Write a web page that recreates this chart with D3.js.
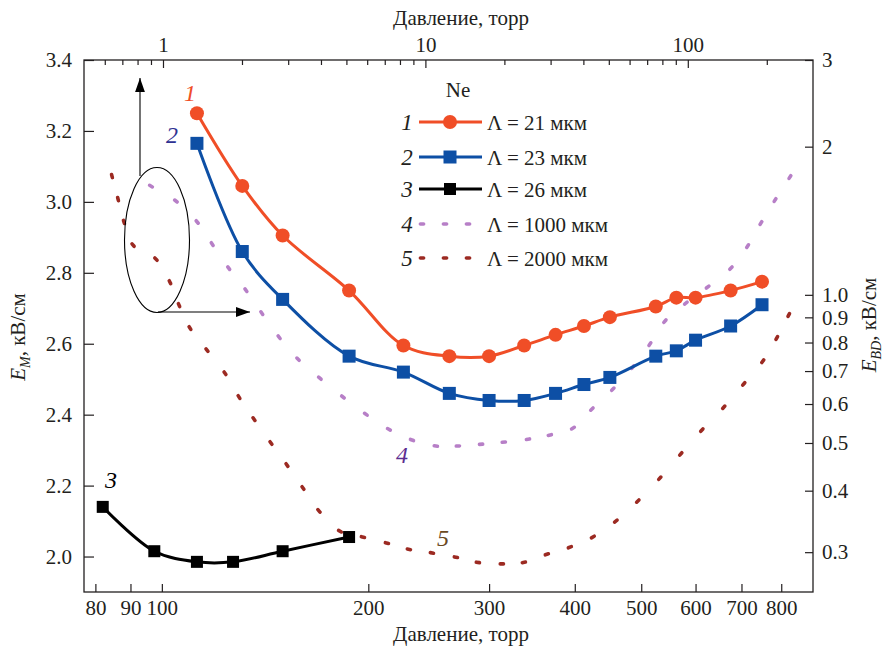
<!DOCTYPE html>
<html>
<head>
<meta charset="utf-8">
<script src="https://cdn.jsdelivr.net/npm/d3@7"></script>
</head>
<body style="margin:0">
<script>
// microgap data, bottom/left axes
var pressureMicro = [112.5, 131, 150, 187.5, 225, 262.5, 300, 337.5, 375, 412.5, 450, 525, 562.5, 600, 675, 750];
var em21 = [3.25, 3.045, 2.905, 2.75, 2.595, 2.565, 2.565, 2.595, 2.625, 2.65, 2.675, 2.705, 2.73, 2.73, 2.75, 2.775];
var em23 = [3.165, 2.86, 2.725, 2.565, 2.52, 2.46, 2.44, 2.44, 2.46, 2.485, 2.505, 2.565, 2.58, 2.61, 2.65, 2.71];
var pressure26 = [82, 97.5, 112.5, 127, 150, 187.5];
var em26 = [2.14, 2.015, 1.985, 1.985, 2.015, 2.055];

// wide gaps, top/right axes
var pressure1000 = [0.90, 1.12, 1.35, 1.54, 1.78, 2.07, 2.38, 2.77, 3.27, 3.96, 4.85, 5.93, 7.26, 8.89, 10.96, 13.3, 16.3, 19.9, 24.6, 29.8, 36.5, 43.1, 51.8, 61.7, 71.7, 81.8, 98.3, 119, 146, 169, 190, 215, 245];
var ebd1000 = [1.663, 1.551, 1.406, 1.268, 1.133, 1.022, 0.918, 0.820, 0.740, 0.677, 0.620, 0.572, 0.533, 0.507, 0.493, 0.493, 0.497, 0.502, 0.509, 0.519, 0.536, 0.586, 0.643, 0.713, 0.794, 0.884, 0.962, 1.037, 1.133, 1.256, 1.399, 1.558, 1.735];
var pressure2000 = [0.639, 0.674, 0.710, 0.769, 0.940, 1.063, 1.151, 1.267, 1.471, 1.723, 1.948, 2.222, 2.579, 2.968, 3.415, 3.929, 4.724, 5.781, 7.135, 8.653, 10.59, 13.07, 15.85, 19.56, 23.73, 29.03, 35.52, 43.46, 53.18, 64.48, 78.22, 94.04, 113.1, 137.1, 163.4, 193.1, 218.3, 242.5];
var ebd2000 = [1.743, 1.565, 1.406, 1.262, 1.182, 1.061, 0.953, 0.856, 0.772, 0.693, 0.620, 0.559, 0.500, 0.451, 0.405, 0.364, 0.331, 0.322, 0.313, 0.304, 0.299, 0.293, 0.286, 0.284, 0.286, 0.297, 0.307, 0.322, 0.347, 0.381, 0.424, 0.475, 0.531, 0.591, 0.659, 0.733, 0.817, 0.910];

var bottomTicks = [80, 90, 100, 200, 300, 400, 500, 600, 700, 800];
var topMajor = [1, 10, 100];
var topMinor = [0.6, 0.7, 0.8, 0.9, 2, 3, 4, 5, 6, 7, 8, 9, 20, 30, 40, 50, 60, 70, 80, 90, 200];
var leftTicks = [2.0, 2.2, 2.4, 2.6, 2.8, 3.0, 3.2, 3.4];
var rightTicks = [0.3, 0.4, 0.5, 0.6, 0.7, 0.8, 0.9, 1.0, 2, 3];
var rightLabels = ["0.3", "0.4", "0.5", "0.6", "0.7", "0.8", "0.9", "1.0", "2", "3"];
var legendNames = ["Λ = 21 мкм", "Λ = 23 мкм", "Λ = 26 мкм", "Λ = 1000 мкм", "Λ = 2000 мкм"];

var W = 889, H = 652;
var L = 84, R = 813, T = 60, B = 592;
var red = "#f04e27", blue = "#0d4fa5", purple = "#b77fc7", brick = "#9c2a22";
var ink = "#231f20";
var FONT = "Liberation Serif";

var svg = d3.select("body").append("svg").attr("width", W).attr("height", H);

var xB = d3.scaleLog().domain([77, 890]).range([L, R]);
var xT = d3.scaleLog().domain([0.5, 300]).range([L, R]);
var yL = d3.scaleLinear().domain([1.9, 3.4]).range([B, T]);
var yR = d3.scaleLog().domain([0.249, 3]).range([B, T]);

function addText(parent, x, y, size) {
    return parent.append("text").attr("x", x).attr("y", y)
        .attr("font-size", size).style("font-family", FONT).attr("fill", ink);
}

function styleAxis(g) {
    g.attr("font-family", null).attr("font-size", null);
    g.select(".domain").remove();
    g.selectAll("line").attr("stroke", ink).attr("stroke-width", 1.2);
    g.selectAll("text").style("font-family", FONT).style("font-size", "21px").attr("fill", ink);
}

svg.append("g").attr("transform", "translate(0," + B + ")")
    .call(d3.axisBottom(xB).tickValues(bottomTicks).tickFormat(d3.format("d")).tickSize(-8).tickPadding(8))
    .call(styleAxis);
svg.append("g").attr("transform", "translate(0," + T + ")")
    .call(d3.axisTop(xT).tickValues(topMajor).tickFormat(d3.format("d")).tickSize(-8).tickPadding(8))
    .call(styleAxis);
svg.append("g").attr("transform", "translate(0," + T + ")")
    .call(d3.axisTop(xT).tickValues(topMinor).tickFormat("").tickSize(-5))
    .call(styleAxis);
svg.append("g").attr("transform", "translate(" + L + ",0)")
    .call(d3.axisLeft(yL).tickValues(leftTicks).tickFormat(d3.format(".1f")).tickSize(-10).tickPadding(12))
    .call(styleAxis);
svg.append("g").attr("transform", "translate(" + R + ",0)")
    .call(d3.axisRight(yR).tickValues(rightTicks).tickFormat(function (d, i) { return rightLabels[i]; }).tickSize(-8).tickPadding(9))
    .call(styleAxis);

svg.append("rect").attr("x", L).attr("y", T).attr("width", R - L).attr("height", B - T)
    .attr("fill", "none").attr("stroke", ink).attr("stroke-width", 1.3);

// axis titles
addText(svg, 461, 25, 21).attr("text-anchor", "middle").text("Давление, торр");
addText(svg, 461, 641, 21).attr("text-anchor", "middle").text("Давление, торр");

function sideTitle(x, y, sub) {
    var t = addText(svg, 0, 0, 21).attr("transform", "translate(" + x + "," + y + ") rotate(-90)")
        .attr("text-anchor", "middle");
    t.append("tspan").attr("font-style", "italic").text("E");
    t.append("tspan").attr("font-style", "italic").attr("font-size", 14).attr("dy", 5).text(sub);
    t.append("tspan").attr("dy", -5).text(", кВ/см");
}
sideTitle(25, 337, "M");
sideTitle(876, 325, "BD");

// dotted curves: one short dash per point, oriented along the curve
function dots(px, py, xs, ys, color) {
    var pts = px.map(function (p, i) { return [xs(p), ys(py[i])]; });
    svg.append("g").selectAll("line").data(pts).enter().append("line")
        .each(function (d, i) {
            var a = pts[Math.max(i - 1, 0)], b = pts[Math.min(i + 1, pts.length - 1)];
            var ang = Math.atan2(b[1] - a[1], b[0] - a[0]);
            var dx = Math.cos(ang) * 1.6, dy = Math.sin(ang) * 1.6;
            d3.select(this).attr("x1", d[0] - dx).attr("y1", d[1] - dy)
                .attr("x2", d[0] + dx).attr("y2", d[1] + dy);
        })
        .attr("stroke", color).attr("stroke-width", 3.6).attr("stroke-linecap", "round");
}
dots(pressure1000, ebd1000, xT, yR, purple);
dots(pressure2000, ebd2000, xT, yR, brick);

// solid curves
var line = d3.line().curve(d3.curveCatmullRom.alpha(0.5));
function series(px, py, color, marker, size) {
    var pts = px.map(function (p, i) { return [xB(p), yL(py[i])]; });
    svg.append("path").attr("d", line(pts)).attr("fill", "none").attr("stroke", color).attr("stroke-width", 3);
    var g = svg.append("g");
    if (marker === "circle") {
        g.selectAll("circle").data(pts).enter().append("circle")
            .attr("cx", function (d) { return d[0]; }).attr("cy", function (d) { return d[1]; })
            .attr("r", size).attr("fill", color);
    } else {
        g.selectAll("rect").data(pts).enter().append("rect")
            .attr("x", function (d) { return d[0] - size / 2; }).attr("y", function (d) { return d[1] - size / 2; })
            .attr("width", size).attr("height", size).attr("fill", color);
    }
}
series(pressure26, em26, "#000", "square", 12);
series(pressureMicro, em23, blue, "square", 13);
series(pressureMicro, em21, red, "circle", 7);

// curve numbers
function num(x, y, s, color) {
    addText(svg, x, y, 24).attr("text-anchor", "middle").attr("font-style", "italic")
        .attr("fill", color).text(s);
}
num(190, 101, "1", red);
num(172, 143, "2", "#2e3192");
num(111, 488, "3", "#000");
num(402, 463, "4", "#5c2d91");
num(443, 546, "5", "#6b4a1f");

// ellipse with arrows
var defs = svg.append("defs");
defs.append("marker").attr("id", "arr").attr("viewBox", "0 0 10 10").attr("refX", 10).attr("refY", 5)
    .attr("markerWidth", 14).attr("markerHeight", 14).attr("markerUnits", "userSpaceOnUse").attr("orient", "auto")
    .append("path").attr("d", "M0,1.5 L10,5 L0,8.5 Z").attr("fill", "#000");
svg.append("ellipse").attr("cx", 157).attr("cy", 240).attr("rx", 32.5).attr("ry", 72.5)
    .attr("fill", "none").attr("stroke", "#000").attr("stroke-width", 1.1);
svg.append("line").attr("x1", 140).attr("y1", 176).attr("x2", 140).attr("y2", 78)
    .attr("stroke", "#000").attr("stroke-width", 1.1).attr("marker-end", "url(#arr)");
svg.append("line").attr("x1", 158).attr("y1", 312).attr("x2", 250).attr("y2", 312)
    .attr("stroke", "#000").attr("stroke-width", 1.1).attr("marker-end", "url(#arr)");

// legend
var lg = svg.append("g");
addText(lg, 458, 97, 21).attr("text-anchor", "middle").text("Ne");
var rowY = [122, 157, 189, 224, 258];
var legColors = [red, blue, "#000", purple, brick];
rowY.forEach(function (y, i) {
    addText(lg, 407, y + 8, 23).attr("text-anchor", "middle").attr("font-style", "italic").text(String(i + 1));
    if (i < 3) {
        lg.append("line").attr("x1", 419).attr("x2", 482).attr("y1", y).attr("y2", y)
            .attr("stroke", legColors[i]).attr("stroke-width", 3);
        if (i === 0) {
            lg.append("circle").attr("cx", 450).attr("cy", y).attr("r", 7).attr("fill", red);
        } else {
            var s = i === 1 ? 13 : 12;
            lg.append("rect").attr("x", 450 - s / 2).attr("y", y - s / 2).attr("width", s).attr("height", s).attr("fill", legColors[i]);
        }
    } else {
        [422, 445, 468].forEach(function (x) {
            lg.append("line").attr("x1", x - 1.6).attr("x2", x + 1.6).attr("y1", y).attr("y2", y)
                .attr("stroke", legColors[i]).attr("stroke-width", 3.6).attr("stroke-linecap", "round");
        });
    }
    addText(lg, 487, y + 8, 21).text(legendNames[i]);
});
</script>
</body>
</html>
